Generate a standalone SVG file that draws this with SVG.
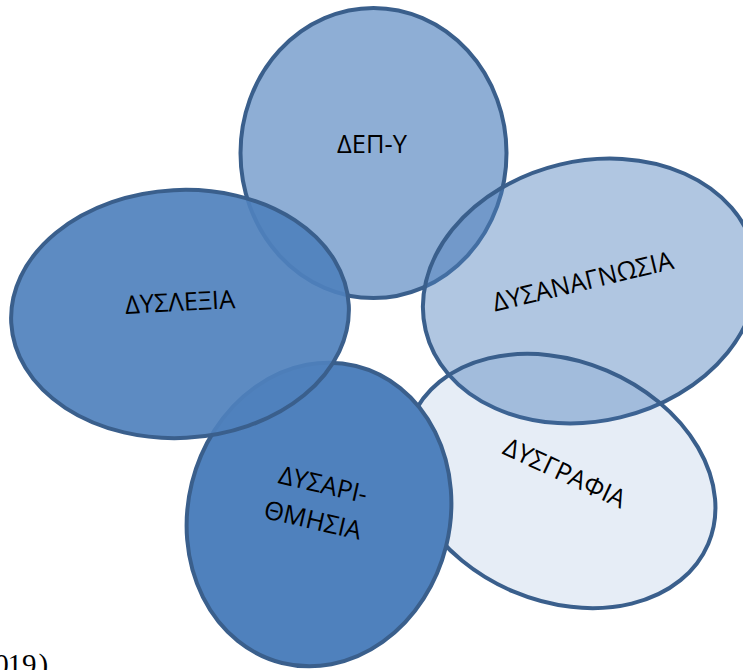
<svg xmlns="http://www.w3.org/2000/svg" width="743" height="670" viewBox="0 0 743 670">
  <style>
    .blob { fill: #4f81bd; stroke: #3a5f8c; stroke-width: 4; }
    .lbl { font-family: "Open Sans", "Liberation Sans", Arial, sans-serif; font-size: 25.5px; fill: #000; text-anchor: middle; }
    .cite { font-family: "Liberation Serif", "Times New Roman", serif; font-size: 29px; fill: #000; }
  </style>
  <rect width="743" height="670" fill="#ffffff"/>

  <!-- top petal -->
  <g id="node-dep-y">
    <ellipse class="blob" cx="373.5" cy="153" rx="133" ry="145" fill-opacity="0.64"/>
    <text class="lbl" x="372" y="153">ΔΕΠ-Υ</text>
  </g>

  <!-- right petal -->
  <g id="node-dysanagnosia">
    <ellipse class="blob" cx="590" cy="291" rx="169" ry="130" transform="rotate(-13.5 590 291)" fill-opacity="0.45"/>
    <text class="lbl" transform="translate(585 290) rotate(-13.5)" x="0" y="0">ΔΥΣΑΝΑΓΝΩΣΙΑ</text>
  </g>

  <!-- lower right petal -->
  <g id="node-dysgrafia">
    <ellipse class="blob" cx="560" cy="481" rx="161" ry="120" transform="rotate(23 560 481)" fill-opacity="0.14"/>
    <text class="lbl" transform="translate(561 481) rotate(25)" x="0" y="0">ΔΥΣΓΡΑΦΙΑ</text>
  </g>

  <!-- lower left petal -->
  <g id="node-dysarithmisia">
    <ellipse class="blob" cx="319" cy="514.5" rx="131" ry="153" transform="rotate(14 319 514.5)" fill-opacity="1"/>
    <g transform="translate(316 511) rotate(13)">
      <text class="lbl" x="1" y="-18.5">ΔΥΣΑΡΙ-</text>
      <text class="lbl" x="-1" y="18.5">ΘΜΗΣΙΑ</text>
    </g>
  </g>

  <!-- left petal -->
  <g id="node-dyslexia">
    <ellipse class="blob" cx="180" cy="314" rx="169" ry="124" transform="rotate(-3 180 314)" fill-opacity="0.92"/>
    <text class="lbl" transform="translate(180.5 311) rotate(-3)" x="0" y="0">ΔΥΣΛΕΞΙΑ</text>
  </g>

  <g id="connectors"/>

  <!-- citation fragment at the page edge -->
  <text class="cite" x="-5.8 7.5 22 38.5" y="674">019)</text>
</svg>
